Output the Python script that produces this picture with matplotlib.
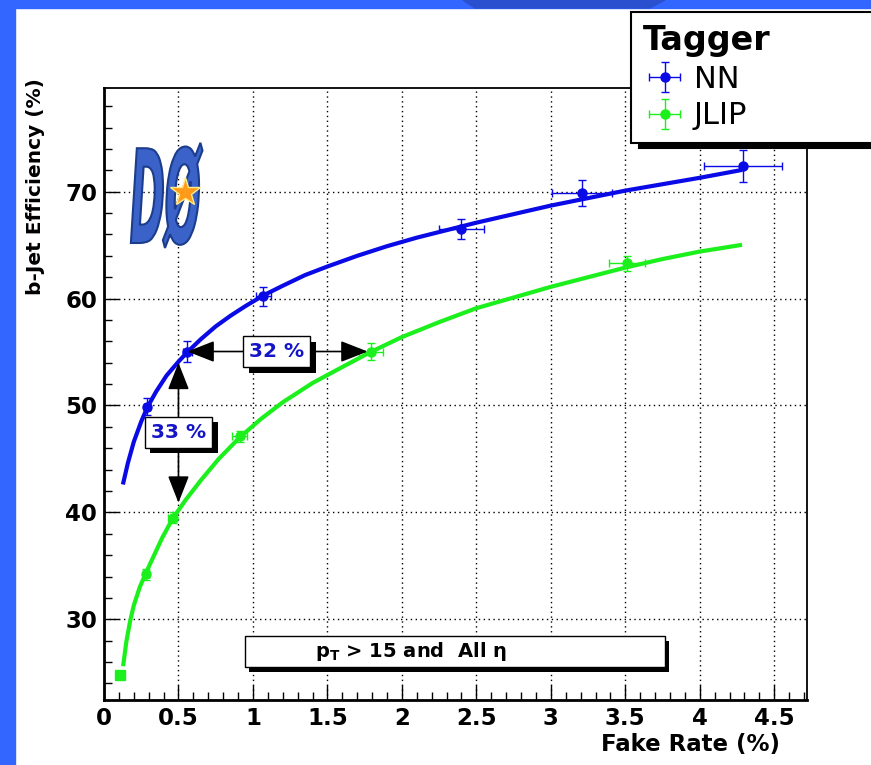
import matplotlib
matplotlib.use('Agg')
import matplotlib.pyplot as plt
import matplotlib.patheffects as pe
from matplotlib.patches import Rectangle, Polygon, PathPatch
from matplotlib.lines import Line2D
from matplotlib.textpath import TextPath
from matplotlib.font_manager import FontProperties
from matplotlib.transforms import Affine2D
from matplotlib.ticker import MultipleLocator

plt.rcParams['font.family'] = ['DejaVu Sans']

## NN tagger points
nn_x = [0.29, 0.56, 1.07, 2.40, 3.21, 4.29]
nn_y = [49.9, 55.05, 60.2, 66.5, 69.9, 72.4]
nn_xerr = [0.02, 0.03, 0.05, 0.15, 0.2, 0.26]
nn_yerr = [0.8, 1.0, 0.9, 0.9, 1.2, 1.5]

## JLIP points
jlip_x = [0.28, 0.46, 0.91, 1.79, 3.51]
jlip_y = [34.2, 39.5, 47.1, 55.05, 63.3]
jlip_xerr = [0.02, 0.03, 0.05, 0.08, 0.12]
jlip_yerr = [0.5, 0.5, 0.5, 0.8, 0.7]
jlip_low_x = [0.107]
jlip_low_y = [24.8]

## fitted curves
nn_fit_x = [0.13, 0.16, 0.2, 0.25, 0.29, 0.35, 0.42, 0.5, 0.56, 0.65, 0.75,
            0.85, 0.95, 1.07, 1.2, 1.35, 1.5, 1.7, 1.9, 2.1, 2.3, 2.5, 2.75,
            3.0, 3.25, 3.5, 3.75, 4.0, 4.27]
nn_fit_y = [42.8, 44.6, 46.6, 48.5, 49.8, 51.3, 52.8, 54.1, 55.0, 56.2, 57.4,
            58.4, 59.3, 60.3, 61.2, 62.2, 63.0, 64.0, 64.9, 65.7, 66.4, 67.1,
            67.9, 68.7, 69.4, 70.1, 70.7, 71.3, 72.0]
jlip_fit_x = [0.13, 0.15, 0.175, 0.2, 0.24, 0.28, 0.33, 0.39, 0.46, 0.55, 0.65,
              0.77, 0.91, 1.05, 1.2, 1.4, 1.6, 1.79, 2.0, 2.25, 2.5, 2.75, 3.0,
              3.25, 3.5, 3.75, 4.0, 4.27]
jlip_fit_y = [25.8, 27.9, 29.8, 31.3, 33.0, 34.3, 35.8, 37.6, 39.4, 41.2, 43.0,
              45.0, 47.0, 48.7, 50.3, 52.1, 53.6, 55.0, 56.4, 57.8, 59.1, 60.1,
              61.1, 62.0, 62.9, 63.7, 64.4, 65.0]

## arrows / labels
h_arrow = (0.56, 1.77, 55.05)   # x from, x to, y
v_arrow = (0.5, 54.0, 40.9)     # x, y from, y to
lbl_32 = (1.16, 55.05, '32 %')
lbl_33 = (0.5, 47.5, '33 %')

blue = '#0a0ae6'
green = '#1cf01c'
txt_blue = '#1515c8'

fig = plt.figure(figsize=(8.71, 7.65), dpi=100)
fig.patch.set_facecolor('white')

# slide background strips
fig.add_artist(Rectangle((0, 0), 15/871, 1, transform=fig.transFigure,
                         color='#3366ff', zorder=0))
fig.add_artist(Rectangle((0, 1-8/765), 1, 8/765, transform=fig.transFigure,
                         color='#3366ff', zorder=0))
fig.add_artist(Polygon([(463/871, 1), (665/871, 1), (650/871, 1-8/765),
                        (475/871, 1-8/765)], closed=True,
                       transform=fig.transFigure, color='#2a4fcf', zorder=0))

ax = fig.add_axes([104/871, 1-700/765, 703/871, 612/765])

ax.plot(nn_fit_x, nn_fit_y, color=blue, lw=3, zorder=3)
ax.plot(jlip_fit_x, jlip_fit_y, color=green, lw=3, zorder=3)

ax.errorbar(nn_x, nn_y, xerr=nn_xerr, yerr=nn_yerr, fmt='o', ms=6.5,
            color=blue, elinewidth=1, capsize=3, label='NN', zorder=4)
ax.errorbar(jlip_x, jlip_y, xerr=jlip_xerr, yerr=jlip_yerr, fmt='o', ms=6.5,
            color=green, elinewidth=1, capsize=3, label='JLIP', zorder=4)
ax.plot(jlip_low_x, jlip_low_y, 's', ms=7.5, color=green, zorder=4)

# arrows
ap = dict(arrowstyle='<|-|>,head_length=1.4,head_width=0.55', color='black',
          lw=1.2, shrinkA=0, shrinkB=0, mutation_scale=12)
ax.annotate('', xy=(h_arrow[0], h_arrow[2]), xytext=(h_arrow[1], h_arrow[2]),
            arrowprops=ap, zorder=5)
ax.annotate('', xy=(v_arrow[0], v_arrow[1]), xytext=(v_arrow[0], v_arrow[2]),
            arrowprops=ap, zorder=5)

shadow = [pe.SimplePatchShadow(offset=(4, -4), shadow_rgbFace='black', alpha=1),
          pe.Normal()]
for lx, ly, s in [lbl_32, lbl_33]:
    t = ax.text(lx, ly, s, ha='center', va='center', color=txt_blue,
                fontsize=14.5, fontweight='bold', zorder=6,
                bbox=dict(boxstyle='square,pad=0.3', fc='white', ec='black', lw=1))
    t.get_bbox_patch().set_path_effects(shadow)

# cut box
box = Rectangle((0.946, 25.5), 2.82, 2.9, fc='white', ec='black', lw=1, zorder=5)
box.set_path_effects([pe.SimplePatchShadow(offset=(3, -3), shadow_rgbFace='black',
                                            alpha=1), pe.Normal()])
ax.add_patch(box)
ax.text(2.06, 26.95, r'$\mathbf{p_T}$ > 15 and  All η', ha='center',
        va='center', fontsize=14, fontweight='bold', zorder=6)

ax.set_xlim(0, 4.72)
ax.set_ylim(22.45, 79.7)
ax.xaxis.set_major_locator(MultipleLocator(0.5))
ax.xaxis.set_minor_locator(MultipleLocator(0.1))
ax.yaxis.set_major_locator(MultipleLocator(10))
ax.yaxis.set_minor_locator(MultipleLocator(2))
ax.set_xticks([0, 0.5, 1, 1.5, 2, 2.5, 3, 3.5, 4, 4.5])
ax.set_xticklabels(['0', '0.5', '1', '1.5', '2', '2.5', '3', '3.5', '4', '4.5'])
ax.set_yticks([30, 40, 50, 60, 70])
ax.tick_params(which='both', direction='in', top=False, right=False)
ax.tick_params(which='major', length=11, width=1, labelsize=16.5, pad=5)
ax.tick_params(which='minor', length=5.5, width=1)
for lab in ax.get_xticklabels() + ax.get_yticklabels():
    lab.set_fontweight('bold')
ax.grid(True, which='major', linestyle=(0, (1, 2.5)), color='black', lw=1)
for sp in ['left', 'bottom']:
    ax.spines[sp].set_linewidth(2)
for sp in ['top', 'right']:
    ax.spines[sp].set_linewidth(1.3)

ax.set_ylabel('b-Jet Efficiency (%)', fontsize=14.5, fontweight='bold', loc='top')
ax.yaxis.set_label_coords(-0.084, 1.016)
ax.set_xlabel('Fake Rate (%)', fontsize=16.5, fontweight='bold', loc='right')
ax.xaxis.set_label_coords(0.9616, -0.054)

# legend
leg = ax.legend(loc='upper left',
                bbox_to_anchor=(631/871, 1-145/765, 0.4, 133/765),
                bbox_transform=fig.transFigure, mode='expand', borderaxespad=0,
                title='Tagger', alignment='left', fontsize=22,
                title_fontproperties={'weight': 'bold', 'size': 24},
                frameon=True, fancybox=False, framealpha=1, edgecolor='black',
                shadow={'ox': 6, 'oy': -4, 'shade': 1.0, 'alpha': 1},
                handlelength=1.4, handletextpad=0.25, labelspacing=0.25,
                borderpad=0.4)
leg.get_frame().set_linewidth(1.5)

# D0 logo
tp = TextPath((0, 0), 'DØ', size=1,
              prop=FontProperties(family='DejaVu Sans', weight='bold', style='italic'))
logo_tr = Affine2D().scale(0.42, 1.3).translate(1.30, 5.22) + fig.dpi_scale_trans
fig.add_artist(PathPatch(tp, transform=logo_tr, fc='#3a62c8', ec='#1c3c8c', lw=1.5,
                         zorder=5))
fig.add_artist(Line2D([185/871], [1-192/765], marker='*', ms=22, color='#ff9a1a',
                      mec='#ffee88', transform=fig.transFigure, zorder=6))

fig.savefig('out.png', dpi=100)
